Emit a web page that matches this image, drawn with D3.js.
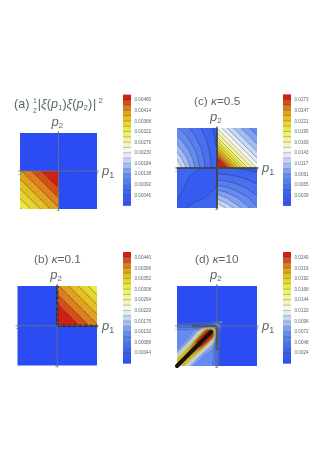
<!DOCTYPE html>
<html>
<head>
<meta charset="utf-8">
<script src="https://cdn.jsdelivr.net/npm/d3@7"></script>
<style>
  html, body { margin: 0; background: #fff; }
  svg { display: block; filter: blur(0.3px); }
  text { font-family: "Liberation Sans", sans-serif; fill: #59686c; }
</style>
</head>
<body>
<svg id="chart" width="331" height="468"></svg>
<script>
// Tick labels of the four colour bars
const ticksA = ["0.00046", "0.00092", "0.00138", "0.00184", "0.00230", "0.00276", "0.00322", "0.00368", "0.00414", "0.00460"];
const ticksB = ["0.00044", "0.00088", "0.00132", "0.00176", "0.00220", "0.00264", "0.00308", "0.00352", "0.00396", "0.00440"];
const ticksC = ["0.0039", "0.0065", "0.0091", "0.0117", "0.0143", "0.0169", "0.0195", "0.0221", "0.0247", "0.0273"];
const ticksD = ["0.0024", "0.0048", "0.0072", "0.0096", "0.0120", "0.0144", "0.0168", "0.0192", "0.0216", "0.0240"];
const axisTicks = [-2, -1, 1, 2];

// Colour ramp of the bars, position 0..1 along the bar
const rampStops = [0, 0.14, 0.28, 0.38, 0.48, 0.58, 0.68, 0.78, 0.88, 1];
const rampColors = ["#2a4cf2", "#4169ef", "#6a8ff0", "#b4caf5", "#f5f8f8", "#f3f3b0", "#ecee48", "#e4c522", "#de7f1e", "#c80a12"];

// Values, rows run from the top of the quadrant down
const gridA3 = [
  [0.0041, 0.00455, 0.0050],
  [0.00365, 0.0041, 0.00455],
  [0.0032, 0.00365, 0.0041]
];
const gridB1 = [
  [0.0040, 0.00355, 0.0031],
  [0.00445, 0.0040, 0.00355],
  [0.0049, 0.00445, 0.0040]
];
const gridC1 = [
  [0.0155, 0.0130, 0.0110, 0.0095, 0.0080],
  [0.0185, 0.0155, 0.0130, 0.0110, 0.0095],
  [0.0225, 0.0185, 0.0155, 0.0130, 0.0110],
  [0.0275, 0.0225, 0.0185, 0.0155, 0.0130],
  [0.0320, 0.0275, 0.0225, 0.0185, 0.0155]
];
const gridC2 = [
  [0.0080, 0.0068, 0.0056, 0.0046, 0.0034],
  [0.0095, 0.0080, 0.0064, 0.0050, 0.0036],
  [0.0110, 0.0092, 0.0072, 0.0055, 0.0038],
  [0.0128, 0.0104, 0.0080, 0.0058, 0.0040],
  [0.0145, 0.0115, 0.0085, 0.0060, 0.0042]
];
const gridC3 = [
  [0.0050, 0.0044, 0.0040, 0.0036, 0.0032],
  [0.0048, 0.0040, 0.0034, 0.0031, 0.0036],
  [0.0046, 0.0036, 0.0030, 0.0034, 0.0040],
  [0.0040, 0.0030, 0.0036, 0.0040, 0.0044],
  [0.0032, 0.0040, 0.0046, 0.0048, 0.0050]
];
const gridC4 = [
  [0.0042, 0.0040, 0.0038, 0.0036, 0.0034],
  [0.0060, 0.0058, 0.0055, 0.0050, 0.0046],
  [0.0085, 0.0080, 0.0072, 0.0064, 0.0056],
  [0.0115, 0.0104, 0.0092, 0.0080, 0.0068],
  [0.0145, 0.0128, 0.0110, 0.0095, 0.0080]
];
// panel (d) runs from -2 to 0.25 in both directions
const gridD3 = [
  [0.0006, 0.0006, 0.0006, 0.0006, 0.0006, 0.0006, 0.0006, 0.0012, 0.0035, 0.0080],
  [0.0040, 0.0040, 0.0040, 0.0040, 0.0040, 0.0042, 0.0048, 0.0070, 0.0120, 0.0035],
  [0.0065, 0.0065, 0.0065, 0.0068, 0.0085, 0.0140, 0.0260, 0.0270, 0.0070, 0.0012],
  [0.0065, 0.0065, 0.0066, 0.0078, 0.0130, 0.0260, 0.0265, 0.0260, 0.0048, 0.0006],
  [0.0065, 0.0066, 0.0075, 0.0125, 0.0245, 0.0255, 0.0260, 0.0140, 0.0042, 0.0006],
  [0.0066, 0.0075, 0.0120, 0.0215, 0.0240, 0.0245, 0.0130, 0.0085, 0.0040, 0.0006],
  [0.0075, 0.0120, 0.0200, 0.0225, 0.0215, 0.0125, 0.0078, 0.0068, 0.0040, 0.0006],
  [0.0120, 0.0195, 0.0215, 0.0200, 0.0120, 0.0075, 0.0066, 0.0065, 0.0040, 0.0006],
  [0.0195, 0.0210, 0.0195, 0.0120, 0.0075, 0.0066, 0.0065, 0.0065, 0.0040, 0.0006],
  [0.0205, 0.0195, 0.0120, 0.0075, 0.0066, 0.0065, 0.0065, 0.0065, 0.0040, 0.0006]
];

// Pile-ups of contour lines along the singular lines, as [p1, p2] ends
const ridgeB = [[[0, 2], [0, 0]], [[0, 0], [2, 0]]];
const ridgeC = [[[0, 2], [0, -2]], [[-2, 0], [2, 0]]];
const ridgeD = [[[-2, -2], [-0.3, -0.3]]];
const shelfD = [[[-1.25, 0], [0, 0]], [[0, 0], [0, -1.2]]];

const svg = d3.select("#chart");
const defs = svg.append("defs");
const rampColor = d3.scaleLinear().domain(rampStops).range(rampColors).clamp(true);
let clipCount = 0;

function drawQuadrant(g, p, quad) {
  const rows = quad.grid.length, cols = quad.grid[0].length;
  const clipId = "clip" + (clipCount++);
  defs.append("clipPath").attr("id", clipId).append("rect")
    .attr("x", p.x(quad.x0)).attr("y", p.y(quad.y1))
    .attr("width", p.x(quad.x1) - p.x(quad.x0))
    .attr("height", p.y(quad.y0) - p.y(quad.y1));

  // d3.contours puts each value in the middle of a cell
  const gx = d3.scaleLinear().domain([0.5, cols - 0.5]).range([p.x(quad.x0), p.x(quad.x1)]);
  const gy = d3.scaleLinear().domain([0.5, rows - 0.5]).range([p.y(quad.y1), p.y(quad.y0)]);
  const path = d3.geoPath(d3.geoTransform({
    point(x, y) { this.stream.point(gx(x), gy(y)); }
  }));

  const contours = d3.contours().size([cols, rows]).smooth(true).thresholds(p.levels)(quad.grid.flat());
  g.append("g").attr("clip-path", `url(#${clipId})`)
    .selectAll("path")
    .data(contours)
    .join("path")
      .attr("d", path)
      .attr("fill", d => p.color(d.value))
      .attr("stroke", "#1c2430")
      .attr("stroke-opacity", p.lineOpacity)
      .attr("stroke-width", 0.55);
}

function drawPanel(cfg) {
  const g = svg.append("g");
  const x = d3.scaleLinear().domain([-2, 2]).range(cfg.xRange);
  const y = d3.scaleLinear().domain([-2, 2]).range(cfg.yRange);
  const cut = d3.scaleLinear().domain([cfg.barMin, cfg.barMax]).range([0, 1]);
  const levels = d3.range(cfg.barMin + cfg.step, cfg.barMax - cfg.step / 2, cfg.step);
  const p = {
    x, y, levels,
    lineOpacity: cfg.lineOpacity,
    color: v => rampColor(cut(v + cfg.step / 2))
  };

  g.append("rect")
    .attr("x", x(-2)).attr("y", y(2))
    .attr("width", x(2) - x(-2)).attr("height", y(-2) - y(2))
    .attr("fill", rampColor(0));

  cfg.quads.forEach(q => drawQuadrant(g, p, q));

  // thick marks on the singular lines
  const line = d3.line().x(d => x(d[0])).y(d => y(d[1]));
  (cfg.shelf || []).forEach(s => {
    g.append("path").attr("d", line(s)).attr("fill", "none")
      .attr("stroke", "#3c4450").attr("stroke-width", 2.4);
  });
  cfg.ridges.forEach(r => {
    g.append("path").attr("d", line(r)).attr("fill", "none")
      .attr("stroke", "#14140f").attr("stroke-width", cfg.ridgeWidth)
      .attr("stroke-linecap", "round");
    // the piled-up lines look bumpy
    if (cfg.bumps) {
      g.append("path").attr("d", line(r)).attr("fill", "none")
        .attr("stroke", "#14140f").attr("stroke-width", cfg.ridgeWidth + 1)
        .attr("stroke-dasharray", "2 3.5");
    }
  });

  // axes through the origin
  g.append("line").attr("x1", x(-2) - 2).attr("x2", x(2) + 2).attr("y1", y(0)).attr("y2", y(0))
    .attr("stroke", "#6f7478").attr("stroke-width", 0.8);
  g.append("line").attr("y1", y(2) - 2).attr("y2", y(-2) + 2).attr("x1", x(0)).attr("x2", x(0))
    .attr("stroke", "#6f7478").attr("stroke-width", 0.8);

  g.selectAll(".tx").data(axisTicks).join("text").attr("class", "tx")
    .attr("x", d => x(d)).attr("y", y(0) + 3.5)
    .attr("text-anchor", "middle").attr("font-size", 4).text(d => d);
  g.selectAll(".ty").data(axisTicks).join("text").attr("class", "ty")
    .attr("x", x(0) - 0.5).attr("y", d => y(d) + 1.5)
    .attr("text-anchor", "middle").attr("font-size", 4).text(d => d);

  // axis names
  const p1 = g.append("text").attr("x", x(2) + 5).attr("y", y(0) + 4).attr("font-size", 13);
  p1.append("tspan").attr("font-style", "italic").text("p");
  p1.append("tspan").attr("font-size", 9).attr("dy", 3).text("1");
  const p2 = g.append("text").attr("x", x(0) - 7).attr("y", y(2) - 7).attr("font-size", 13);
  p2.append("tspan").attr("font-style", "italic").text("p");
  p2.append("tspan").attr("font-size", 8).attr("dy", 2).text("2");

  cfg.title(g.append("text").attr("x", cfg.titleX).attr("y", cfg.titleY).attr("font-size", cfg.titleSize));

  // colour bar
  const barY = d3.scaleLinear().domain([cfg.barMin, cfg.barMax]).range(cfg.barRange);
  const edges = [cfg.barMin].concat(levels);
  g.selectAll(".band").data(edges).join("rect").attr("class", "band")
    .attr("x", cfg.barX).attr("width", 8)
    .attr("y", d => barY(d + cfg.step))
    .attr("height", barY(cfg.barMin) - barY(cfg.barMin + cfg.step) + 0.2)
    .attr("fill", d => p.color(d));
  g.selectAll(".mark").data(levels).join("line").attr("class", "mark")
    .attr("x1", cfg.barX).attr("x2", cfg.barX + 8)
    .attr("y1", d => barY(d)).attr("y2", d => barY(d))
    .attr("stroke", "#2c2c1c").attr("stroke-opacity", 0.55).attr("stroke-width", 0.5);
  g.selectAll(".lab").data(cfg.ticks).join("text").attr("class", "lab")
    .attr("x", cfg.barX + 11.5).attr("y", d => barY(+d) + 1.6)
    .attr("font-size", 4.6).text(d => d);
}

function kappaTitle(label, value) {
  return t => {
    t.append("tspan").text(label + " ");
    t.append("tspan").attr("font-style", "italic").text("κ");
    t.append("tspan").text("=" + value);
  };
}

function formulaTitle(t) {
  t.append("tspan").text("(a) ");
  t.append("tspan").attr("font-size", 7).attr("dy", -5).text("1");
  t.append("tspan").attr("font-size", 7).attr("dx", -3.9).attr("dy", 9.5).text("2");
  t.append("tspan").attr("dy", -4.5).attr("dx", 1).text("|");
  t.append("tspan").attr("font-style", "italic").text("ξ");
  t.append("tspan").text("(");
  t.append("tspan").attr("font-style", "italic").text("p");
  t.append("tspan").attr("font-size", 8).attr("dy", 2).text("1");
  t.append("tspan").attr("dy", -2).text(")");
  t.append("tspan").attr("font-style", "italic").text("ξ");
  t.append("tspan").text("(");
  t.append("tspan").attr("font-style", "italic").text("p");
  t.append("tspan").attr("font-size", 8).attr("dy", 2).text("2");
  t.append("tspan").attr("dy", -2).text(")");
  t.append("tspan").attr("dx", 1).text("|");
  t.append("tspan").attr("font-size", 8).attr("dx", 2).attr("dy", -5).text("2");
}

drawPanel({
  title: formulaTitle, titleX: 14, titleY: 108, titleSize: 12.6,
  xRange: [20, 97], yRange: [209, 133],
  quads: [{ grid: gridA3, x0: -2, x1: 0, y0: -2, y1: 0 }],
  ridges: [], ridgeWidth: 0, lineOpacity: 0.7,
  ticks: ticksA, barMin: 0, barMax: 0.00483, step: 0.00023,
  barX: 123, barRange: [205.6, 94.6]
});
drawPanel({
  title: kappaTitle("(b)", "0.1"), titleX: 34, titleY: 263, titleSize: 11.8,
  xRange: [17.5, 97], yRange: [365.5, 286],
  quads: [{ grid: gridB1, x0: 0, x1: 2, y0: 0, y1: 2 }],
  ridges: ridgeB, ridgeWidth: 1.6, bumps: true, lineOpacity: 0.7,
  ticks: ticksB, barMin: 0, barMax: 0.00462, step: 0.00022,
  barX: 123, barRange: [363.5, 252]
});
drawPanel({
  title: kappaTitle("(c)", "0.5"), titleX: 194, titleY: 105, titleSize: 11.8,
  xRange: [177, 257], yRange: [208, 128],
  quads: [
    { grid: gridC1, x0: 0, x1: 2, y0: 0, y1: 2 },
    { grid: gridC2, x0: -2, x1: 0, y0: 0, y1: 2 },
    { grid: gridC3, x0: -2, x1: 0, y0: -2, y1: 0 },
    { grid: gridC4, x0: 0, x1: 2, y0: -2, y1: 0 }
  ],
  ridges: ridgeC, ridgeWidth: 1.5, lineOpacity: 0.6,
  ticks: ticksC, barMin: 0.0013, barMax: 0.0286, step: 0.0013,
  barX: 283, barRange: [205.7, 94.4]
});
drawPanel({
  title: kappaTitle("(d)", "10"), titleX: 195, titleY: 263, titleSize: 11.8,
  xRange: [177, 257], yRange: [366, 286],
  quads: [{ grid: gridD3, x0: -2, x1: 0.25, y0: -2, y1: 0.25 }],
  shelf: shelfD, ridges: ridgeD, ridgeWidth: 4, lineOpacity: 0.3,
  ticks: ticksD, barMin: 0, barMax: 0.0252, step: 0.0012,
  barX: 283, barRange: [363.5, 252]
});
</script>
</body>
</html>
